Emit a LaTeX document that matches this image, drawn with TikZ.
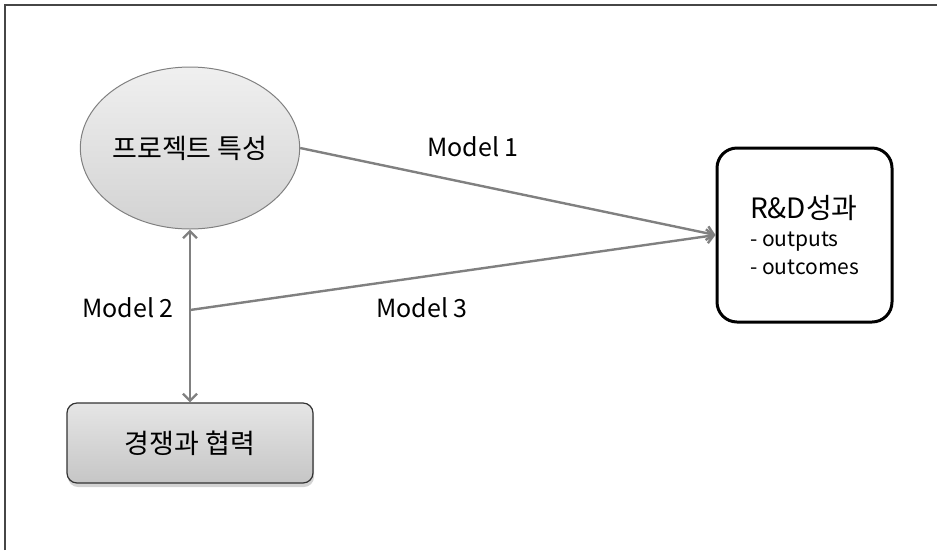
\documentclass[tikz,border=0pt]{standalone}
\usepackage{fontspec}
\setmainfont{Noto Sans CJK KR}
\usetikzlibrary{arrows.meta,shapes.geometric,shadows,scopes}
\definecolor{lngray}{RGB}{128,128,128}
\definecolor{frgray}{RGB}{70,70,70}
\tikzset{
  >={Straight Barb[length=7pt,width=14pt,line width=2.4pt]},
  el/.style={ellipse, draw=lngray, line width=1pt, top color=gray!12, bottom color=gray!35,
    minimum width=204pt, minimum height=162pt, inner sep=0pt},
  rb/.style={rectangle, rounded corners=10pt, draw=black!80, line width=1.2pt,
    top color=gray!20, bottom color=gray!45, minimum width=246pt, minimum height=80pt,
    drop shadow={opacity=0.35, shadow xshift=1pt, shadow yshift=-4pt}},
  ob/.style={rectangle, rounded corners=20pt, draw=black, line width=3pt,
    minimum width=175pt, minimum height=174pt, align=left,
    font=\fontsize{21}{28}\selectfont},
  kl/.style={font=\fontsize{27}{32}\selectfont},
  lb/.style={font=\fontsize{25}{30}\selectfont}
}

\begin{document}
\begin{tikzpicture}[x=1pt, y=-1pt, line/.style={draw=lngray, line width=2.4pt}]
  \useasboundingbox (0,0) rectangle (937,550);
  % frame
  \draw[frgray, line width=1.5pt] (5,550) -- (5,5) -- (937,5);
  % nodes
  \node[el, kl] (pe) at (190,148) {프로젝트 특성};
  \node[rb, kl] (cc) at (190,443) {경쟁과 협력};
  \node[ob] (rd) at (804.5,235) {{\fontsize{28}{30}\selectfont R\&D성과}\\
    - outputs\\
    - outcomes};
  \coordinate (mid) at (190,310);
  % labels
  \node[lb] (m1) at (473,147) {Model 1};
  \node[lb] (m2) at (128,308) {Model 2};
  \node[lb] (m3) at (422,308) {Model 3};
  % connectors
  {[line, <->]
    \draw (pe.south) -- (cc.north);
  }
  {[line, ->]
    \draw (pe.east) -- (rd.west);
    \draw (mid) -- (rd.west);
  }
\end{tikzpicture}
\end{document}
